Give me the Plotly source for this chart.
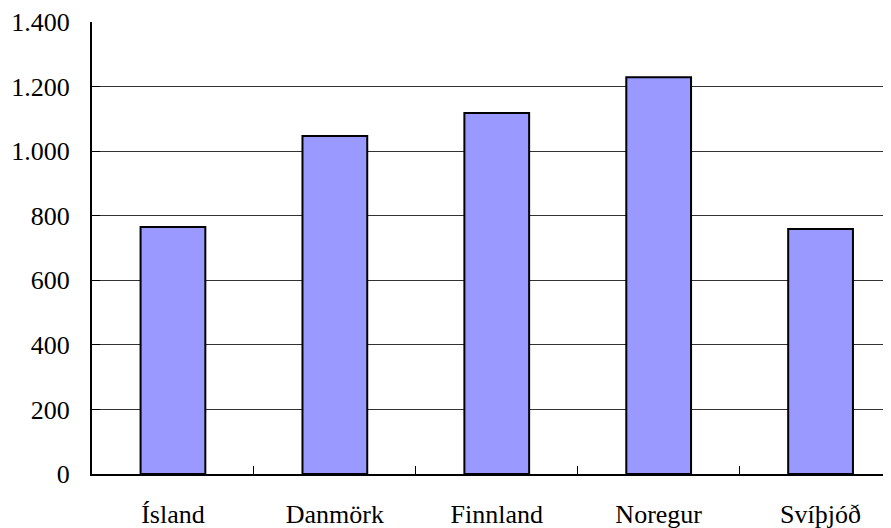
import plotly.graph_objects as go

categories = ["Ísland", "Danmörk", "Finnland", "Noregur", "Svíþjóð"]
values = [765, 1047, 1118, 1229, 759]
y_ticks = [0, 200, 400, 600, 800, 1000, 1200, 1400]

fig = go.Figure(
    go.Bar(
        x=categories,
        y=values,
        marker=dict(color="#9999FF", line=dict(color="black", width=2)),
    )
)

font = dict(family="Liberation Serif, Times New Roman, serif", size=26, color="black")

# page body has an 8px default margin, so the figure is 8px smaller and margins offset
fig.update_layout(
    width=883,
    height=520,
    margin=dict(l=84, r=0, t=14, b=54, autoexpand=False),
    paper_bgcolor="white",
    plot_bgcolor="white",
    bargap=0.6,
    separators=",.",
    showlegend=False,
    font=font,
)

fig.update_xaxes(
    type="category",
    range=[-0.5, 4.435],
    automargin=False,
    showgrid=False,
    showline=True,
    linecolor="black",
    linewidth=2,
    ticks="inside",
    tickson="boundaries",
    ticklen=8,
    tickcolor="black",
    tickwidth=1,
    ticklabelstandoff=16,
    tickfont=font,
)

fig.update_yaxes(
    range=[0, 1400],
    tickvals=y_ticks,
    tickformat=",",
    automargin=False,
    showgrid=True,
    gridcolor="#333333",
    gridwidth=1,
    zeroline=False,
    showline=True,
    linecolor="black",
    linewidth=2,
    ticks="inside",
    ticklen=8,
    tickcolor="black",
    tickwidth=1,
    ticklabelstandoff=15,
    tickfont=font,
)

fig.write_html("out.html")
